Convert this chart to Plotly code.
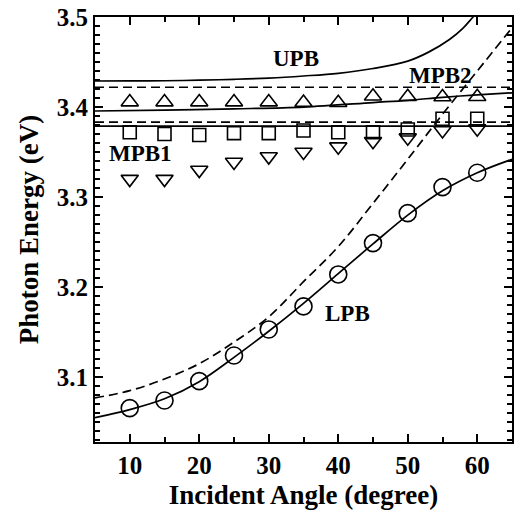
import plotly.graph_objects as go

# ---- measured data (markers) ----
angles = [10, 15, 20, 25, 30, 35, 40, 45, 50, 55, 60]
lpb_pts = [3.0656, 3.0741, 3.0956, 3.1241, 3.1530, 3.1786, 3.2141, 3.2489, 3.2822, 3.3111, 3.3270]
down_pts = [3.320, 3.320, 3.330, 3.339, 3.345, 3.350, 3.356, 3.362, 3.366, 3.374, 3.376]
square_pts = [3.372, 3.370, 3.369, 3.371, 3.371, 3.374, 3.372, 3.372, 3.375, 3.387, 3.387]
up_pts = [3.4055, 3.4055, 3.4055, 3.4055, 3.4055, 3.4050, 3.4048, 3.4120, 3.4115, 3.4112, 3.4115]

# ---- model curves ----
upb_x = [5, 10, 15, 20, 25, 30, 35, 40, 45, 50, 53, 56, 58, 59.4, 60.5]
upb_y = [3.4289, 3.4290, 3.4292, 3.4298, 3.4308, 3.4322, 3.4345, 3.4375, 3.4428, 3.4510, 3.4610, 3.4750, 3.4880, 3.5000, 3.5090]

mpb2_x = [5, 15, 25, 35, 45, 50, 55, 60, 65]
mpb2_y = [3.3956, 3.3966, 3.3980, 3.4000, 3.4050, 3.4075, 3.4108, 3.4135, 3.4158]

mpb1_x = [5, 65]
mpb1_y = [3.3788, 3.3788]

exc_x = [5, 65]
exc_a = [3.3833, 3.3833]
exc_b = [3.4220, 3.4220]

cav_x = [5, 10, 15, 20, 25, 30, 35, 40, 45, 50, 55, 60, 65]
cav_y = [3.077, 3.085, 3.098, 3.115, 3.139, 3.167, 3.206, 3.245, 3.293, 3.342, 3.392, 3.440, 3.488]

lpb_x = [5, 10, 15, 20, 25, 30, 35, 40, 45, 50, 55, 60, 65]
lpb_y = [3.055, 3.064, 3.076, 3.095, 3.122, 3.151, 3.182, 3.215, 3.248, 3.280, 3.307, 3.327, 3.342]

labels = ["UPB", "MPB2", "MPB1", "LPB"]
label_x = [33.9, 54.65, 11.6, 41.35]
label_y = [3.4538, 3.4347, 3.3482, 3.1704]

FONT = "Liberation Serif, Times New Roman, serif"
BLACK = "black"

fig = go.Figure()

def line(x, y, dash="solid"):
    fig.add_trace(go.Scatter(
        x=x, y=y, mode="lines",
        line=dict(color=BLACK, width=1.7, dash=dash, shape="spline"),
        showlegend=False, hoverinfo="skip"))

line(upb_x, upb_y)
line(mpb2_x, mpb2_y)
line(mpb1_x, mpb1_y)
line(exc_x, exc_a, dash="9px,5px")
line(exc_x, exc_b, dash="9px,5px")
line(cav_x, cav_y, dash="9px,5px")
line(lpb_x, lpb_y)

def markers(y, symbol, size):
    fig.add_trace(go.Scatter(
        x=angles, y=y, mode="markers",
        marker=dict(symbol=symbol, size=size, color="rgba(255,255,255,0)",
                    line=dict(color=BLACK, width=1.6)),
        showlegend=False, cliponaxis=False))

markers(lpb_pts, "circle", 17)
markers(down_pts, "triangle-down", 15)
markers(square_pts, "square", 13)
markers(up_pts, "triangle-up", 15)

for t, xx, yy in zip(labels, label_x, label_y):
    fig.add_annotation(x=xx, y=yy, text=t, showarrow=False,
                       font=dict(family=FONT, size=23, color=BLACK, weight="bold"),
                       xanchor="center", yanchor="middle")

axis_common = dict(
    showline=True, linecolor=BLACK, linewidth=2, mirror="allticks",
    ticks="inside", tickcolor=BLACK, tickwidth=1.5, ticklen=8,
    showgrid=False, zeroline=False, automargin=False,
    tickfont=dict(family=FONT, size=25, color=BLACK, weight="bold"),
)

fig.update_xaxes(
    range=[5, 65], tick0=10, dtick=10,
    minor=dict(ticks="inside", dtick=5, tick0=5, ticklen=5, tickwidth=1.5, tickcolor=BLACK),
    title=dict(text="Incident Angle (degree)", standoff=8,
               font=dict(family=FONT, size=27, color=BLACK, weight="bold")),
    **axis_common)
fig.update_yaxes(
    range=[3.028, 3.5], tick0=3.1, dtick=0.1, tickformat=".1f",
    minor=dict(ticks="inside", dtick=0.01, tick0=3.0, ticklen=5, tickwidth=1.5, tickcolor=BLACK),
    title=dict(text="Photon Energy (eV)", standoff=10,
               font=dict(family=FONT, size=27, color=BLACK, weight="bold")),
    **axis_common)

fig.update_layout(
    width=514, height=510,
    margin=dict(l=95, r=2, t=17, b=68),
    paper_bgcolor="white", plot_bgcolor="white",
    showlegend=False,
)

fig.write_html("out.html",
               config={"displayModeBar": False},
               post_script="document.body.style.margin='0';document.body.style.overflow='hidden';")
